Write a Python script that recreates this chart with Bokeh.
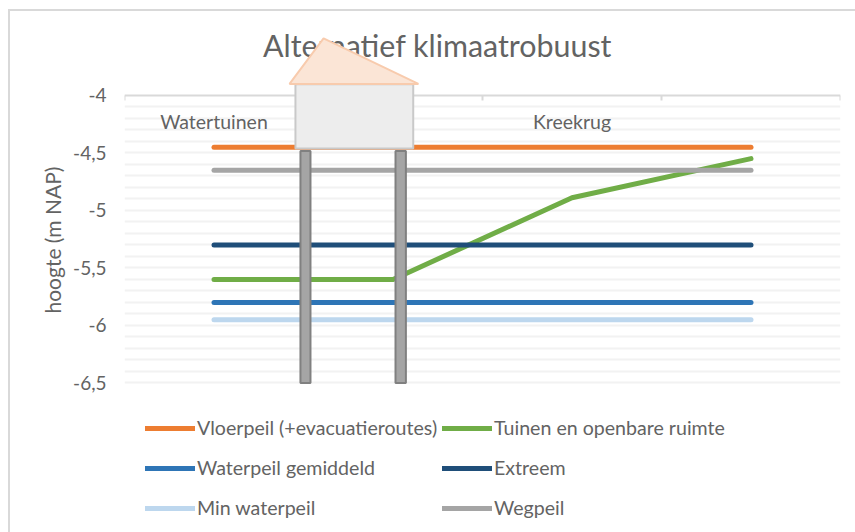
from bokeh.plotting import figure
from bokeh.embed import file_html
from bokeh.resources import INLINE
from bokeh.core.properties import value
from bokeh.models import (FixedTicker, LinearAxis, Legend, LegendItem, PolyAnnotation,
                          Range1d, Title, Label)

FONT = "Lato"
TEXT = "#636363"

title_text = "Alternatief klimaatrobuust"
y_label = "hoogte (m NAP)"

# x positions of the four categories on the line chart
positions = [0.5, 1.5, 2.5, 3.5]
vloerpeil = [-4.45, -4.45, -4.45, -4.45]
tuinen = [-5.6, -5.6, -4.89, -4.55]
waterpeil = [-5.8, -5.8, -5.8, -5.8]
extreem = [-5.3, -5.3, -5.3, -5.3]
min_waterpeil = [-5.95, -5.95, -5.95, -5.95]
wegpeil = [-4.65, -4.65, -4.65, -4.65]

y_ticks = [-4.0, -4.5, -5.0, -5.5, -6.0, -6.5]
y_tick_labels = ["-4", "-4,5", "-5", "-5,5", "-6", "-6,5"]
grid_ticks = [-4.1, -4.2, -4.3, -4.4, -4.5, -4.6, -4.7, -4.8, -4.9, -5.0, -5.1, -5.2, -5.3,
              -5.4, -5.5, -5.6, -5.7, -5.8, -5.9, -6.0, -6.1, -6.2, -6.3, -6.4, -6.5]
x_ticks = [0, 1, 2, 3, 4]

zone_names = ["Watertuinen", "Kreekrug"]
zone_x = [0.5, 2.5]
zone_y = [-4.226, -4.226]

# house illustration, in data units
roof_x = [1.112, 1.642, 0.922]
roof_y = [-3.504, -3.9, -3.9]
body_x = [0.955, 1.613, 1.613, 0.955]
body_y = [-3.904, -3.904, -4.461, -4.461]
pile1_x = [0.983, 1.039, 1.039, 0.983]
pile2_x = [1.514, 1.572, 1.572, 1.514]
pile_y = [-4.483, -4.483, -6.5, -6.5]

p = figure(width=855, height=532, output_backend="svg", toolbar_location=None,
           x_range=Range1d(0, 4), y_range=Range1d(-7.80, -3.175),
           min_border_left=124, min_border_right=15, min_border_top=0, min_border_bottom=0,
           x_axis_location=None, outline_line_color=None,
           border_fill_color=None, background_fill_color=None)
p.styles = {
    "background-image": "linear-gradient(#d9d9d9,#d9d9d9),linear-gradient(#d9d9d9,#d9d9d9)",
    "background-size": "100% 2px,2px 100%",
    "background-position": "8px 9px,8px 9px",
    "background-repeat": "no-repeat",
}

p.add_layout(Label(x=1.749, y=-3.565, text=title_text, text_font=FONT, text_font_size="30.4px",
                   text_color=TEXT, text_align="center", text_baseline="middle"))

top_axis = LinearAxis(ticker=FixedTicker(ticks=x_ticks), fixed_location=-4, bounds=(0, 4),
                      major_label_overrides={t: "" for t in x_ticks}, major_label_standoff=0,
                      axis_line_color="#d9d9d9", axis_line_width=2,
                      major_tick_line_color="#d9d9d9", major_tick_line_width=2,
                      major_tick_in=5, major_tick_out=0, minor_tick_line_color=None)
p.add_layout(top_axis, "above")

ax = p.yaxis[0]
ax.ticker = FixedTicker(ticks=y_ticks)
ax.major_label_overrides = dict(zip(y_ticks, y_tick_labels))
ax.axis_line_color = None
ax.major_tick_line_color = None
ax.minor_tick_line_color = None
ax.major_label_standoff = 12
ax.major_label_text_font = FONT
ax.major_label_text_font_size = "19px"
ax.major_label_text_color = TEXT

p.add_layout(Title(text=y_label, align="left", offset=219, standoff=12, text_font=FONT,
                   text_font_size="21px", text_font_style="normal", text_color=TEXT), "left")

p.xgrid.visible = False
p.ygrid.ticker = FixedTicker(ticks=grid_ticks)
p.ygrid.grid_line_color = "#f2f2f2"
p.ygrid.grid_line_width = 2

series = [("Vloerpeil (+evacuatieroutes)", vloerpeil, "#ed7d31"),
          ("Tuinen en openbare ruimte", tuinen, "#70ad47"),
          ("Waterpeil gemiddeld", waterpeil, "#2e75b6"),
          ("Extreem", extreem, "#1f4e79"),
          ("Min waterpeil", min_waterpeil, "#bdd7ee"),
          ("Wegpeil", wegpeil, "#a5a5a5")]
items = []
for name, vals, col in series:
    r = p.line(positions, vals, line_color=col, line_width=5, line_cap="round", line_join="round")
    items.append(LegendItem(label=name, renderers=[r]))

p.text(zone_x, zone_y, text=zone_names, text_font=value(FONT), text_font_size="19.5px",
       text_color=TEXT, text_align="center", text_baseline="middle")

for idx, xpos in ((0, 21), (1, 318)):
    lg = Legend(items=items[idx::2], location=(xpos, 13), orientation="vertical",
                border_line_color=None, background_fill_alpha=0,
                padding=0, margin=0, spacing=17, glyph_width=50, glyph_height=20,
                label_standoff=2, label_height=20,
                label_text_font=FONT, label_text_font_size="19.6px", label_text_color=TEXT)
    p.add_layout(lg, "center")

for xs, ys, fill, line in [(pile1_x, pile_y, "#a5a5a5", "#808080"),
                           (pile2_x, pile_y, "#a5a5a5", "#808080"),
                           (body_x, body_y, "#ededed", "#c9c9c9"),
                           (roof_x, roof_y, "#fbe5d6", "#f8cbad")]:
    p.add_layout(PolyAnnotation(xs=xs, ys=ys, fill_color=fill, fill_alpha=1, line_color=line,
                                line_width=2, line_alpha=1, level="overlay"))

open("out.html", "w").write(file_html(p, INLINE))
